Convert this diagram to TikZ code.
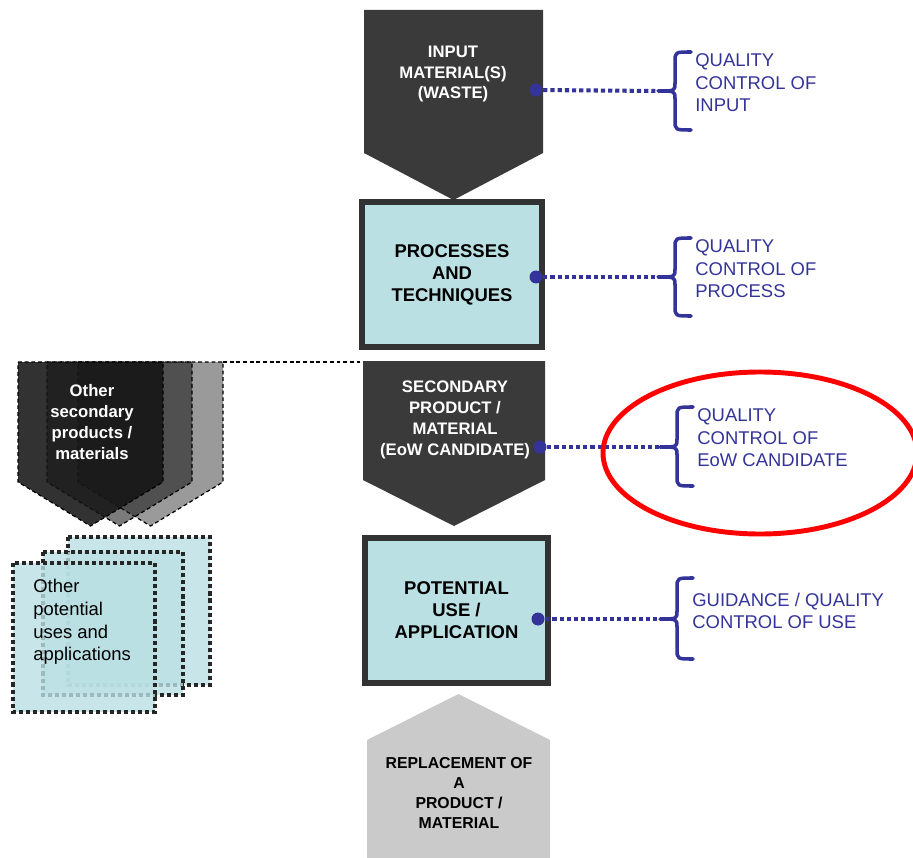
\documentclass[tikz,border=0pt]{standalone}
\usepackage{fontspec}
\setmainfont{Liberation Sans}
\usepackage{tikz}

\definecolor{darkbox}{RGB}{58,58,58}
\definecolor{paleblue}{RGB}{186,224,227}
\definecolor{qblue}{RGB}{51,51,153}
\definecolor{replgray}{RGB}{202,202,202}

\begin{document}
\begin{tikzpicture}[x=0.02cm, y=-0.02cm,
	whitetext/.style={text=white, align=center, inner sep=0pt, font=\bfseries\fontsize{9.5}{11.8}\selectfont},
	cyanbox/.style={draw=black!80, line width=3.4pt, fill=paleblue, align=center, font=\bfseries\fontsize{10.5}{12.5}\selectfont},
	qtext/.style={text=qblue, align=left, anchor=west, inner sep=0pt, font=\fontsize{10.5}{12.8}\selectfont},
	qline/.style={qblue, line width=2.3pt, dash pattern=on 2.4pt off 1.7pt},
	qbrace/.style={qblue, line width=2pt, line cap=round, line join=round},
	othsec/.style={draw=black, line width=0.7pt, dash pattern=on 2.2pt off 1.6pt},
	othuse/.style={draw=black!85, line width=2.3pt, dash pattern=on 2.3pt off 1.7pt, fill=paleblue, fill opacity=0.8}]
	\useasboundingbox (0,0) rectangle (913,858);
	
	% main chain
	\fill[darkbox] (364,10) -- (543,10) -- (543,153) -- (453.5,200) -- (364,153) -- cycle;
	\node[whitetext] (input) at (453,74) {INPUT\\MATERIAL(S)\\(WASTE)};
	
	\node[cyanbox, minimum width=3.6cm, minimum height=2.9cm] (proc) at (452,274.5) {PROCESSES\\AND\\TECHNIQUES};
	
	\fill[darkbox] (363,361) -- (545,361) -- (545,480) -- (454,526) -- (363,480) -- cycle;
	\node[whitetext] (second) at (455,420) {SECONDARY\\PRODUCT /\\MATERIAL\\(EoW CANDIDATE)};
	
	\node[cyanbox, minimum width=3.66cm, minimum height=2.9cm] (use) at (456.5,610.5) {POTENTIAL\\USE /\\APPLICATION};
	
	\fill[replgray] (367,858) -- (367,740) -- (458.5,694) -- (550,740) -- (550,858) -- cycle;
	\node[align=center, inner sep=0pt, font=\bfseries\fontsize{9}{11.4}\selectfont] (repl) at (459,793) {REPLACEMENT OF\\A\\PRODUCT /\\MATERIAL};
	
	% other secondary products
	\filldraw[othsec, fill={rgb,255:red,154;green,154;blue,154}] (78,362) -- (223,362) -- (223,482) -- (150.5,526) -- (78,482) -- cycle;
	\filldraw[othsec, fill={rgb,255:red,28;green,28;blue,28}, fill opacity=0.58] (47,362) -- (192,362) -- (192,482) -- (119.5,526) -- (47,482) -- cycle;
	\filldraw[othsec, fill={rgb,255:red,20;green,20;blue,20}, fill opacity=0.87] (18,362) -- (163,362) -- (163,482) -- (90.5,526) -- (18,482) -- cycle;
	\node[whitetext] (othsec) at (92,422) {Other\\secondary\\products /\\materials};
	\coordinate (othtop) at (223,362);
	\coordinate (sectop) at (363,362);
	\draw[othsec] (othtop) -- (sectop);
	
	% other potential uses
	\filldraw[othuse] (68,537) rectangle (210,685);
	\filldraw[othuse] (43,552) rectangle (183,695);
	\filldraw[othuse] (13,563) rectangle (155,712);
	\node[align=left, anchor=west, inner sep=0pt, font=\fontsize{10.5}{12.9}\selectfont] (othuse) at (33,622) {Other\\potential\\uses and\\applications};
	
	% quality control braces
	\draw[qbrace] (691,52) .. controls (675,52) .. (675,62) -- (675,83) .. controls (675,91) .. (658,91) .. controls (675,91) .. (675,99) -- (675,120) .. controls (675,130) .. (691,130);
	\draw[qbrace] (691,238) .. controls (675,238) .. (675,248) -- (675,269) .. controls (675,277) .. (658,277) .. controls (675,277) .. (675,285) -- (675,306) .. controls (675,316) .. (691,316);
	\draw[qbrace] (693,407) .. controls (677,407) .. (677,417) -- (677,439) .. controls (677,447) .. (660,447) .. controls (677,447) .. (677,455) -- (677,476) .. controls (677,486) .. (693,486);
	\draw[qbrace] (693,578) .. controls (677,578) .. (677,588) -- (677,611) .. controls (677,619) .. (660,619) .. controls (677,619) .. (677,627) -- (677,649) .. controls (677,659) .. (693,659);
	\coordinate (t1) at (658,91);
	\coordinate (t2) at (658,277);
	\coordinate (t3) at (660,447);
	\coordinate (t4) at (660,619);
	
	\coordinate (d1) at (536,90);
	\coordinate (d2) at (536,277);
	\coordinate (d3) at (540,447);
	\coordinate (d4) at (538,619);
	\draw[qline] (d1) -- (t1);
	\draw[qline] (d2) -- (t2);
	\draw[qline] (d3) -- (t3);
	\draw[qline] (d4) -- (t4);
	\fill[qblue] (d1) circle (6.5);
	\fill[qblue] (d2) circle (6.5);
	\fill[qblue] (d3) circle (6.5);
	\fill[qblue] (d4) circle (6.5);
	
	\node[qtext] (q1) at (695,83) {QUALITY\\CONTROL OF\\INPUT};
	\node[qtext] (q2) at (695,269) {QUALITY\\CONTROL OF\\PROCESS};
	\node[qtext] (q3) at (697,438) {QUALITY\\CONTROL OF\\EoW CANDIDATE};
	\node[qtext] (q4) at (692,611) {GUIDANCE / QUALITY\\CONTROL OF USE};
	
	% highlight
	\draw[red, line width=2.8pt] (760,453) ellipse (157 and 81);
\end{tikzpicture}
\end{document}
